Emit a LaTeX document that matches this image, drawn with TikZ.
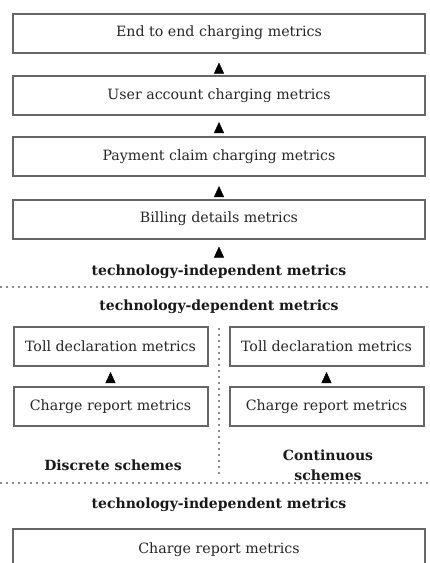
\documentclass[tikz,border=0pt]{standalone}
\usepackage{fontspec}
\setmainfont{DejaVu Serif}
\usetikzlibrary{arrows.meta, positioning}

\begin{document}
\begin{tikzpicture}[x=0.5pt, y=-0.5pt,
  box/.style={draw=black!60, line width=1pt, minimum height=19.5pt, inner sep=0pt,
    text=black!85, font=\fontsize{7.1}{8.4}\selectfont},
  wide/.style={box, minimum width=206pt},
  half/.style={box, minimum width=97pt},
  head/.style={inner sep=1pt, text=black!90, font=\bfseries\fontsize{7}{8.2}\selectfont},
  uparrow/.style={white, line width=0.2pt, -{Triangle[black, width=5pt, length=5.5pt]},
    shorten <=2pt, shorten >=#1},
  uparrow/.default=4pt,
  sep/.style={black!45, line width=0.9pt, dash pattern=on 0.9pt off 2.1pt}]
  \clip (0,0) rectangle (429,563);
  % upper chain
  \node[wide] (end) at (219,33) {End to end charging metrics};
  \node[wide] (user) at (219,95.5) {User account charging metrics};
  \node[wide] (claim) at (219,156.5) {Payment claim charging metrics};
  \node[wide] (billing) at (219,219) {Billing details metrics};
  \node[head] (indep) at (219,272) {technology-independent metrics};
  \draw[uparrow=4.5pt] (user) -- (end);
  \draw[uparrow=3pt] (claim) -- (user);
  \draw[uparrow=4.5pt] (billing) -- (claim);
  \draw[uparrow=3.5pt] (indep) -- (billing);
  \draw[sep] (0,287) -- (429,287);
  % dependent part
  \node[head] (dep) at (219,307) {technology-dependent metrics};
  \node[half] (tollD) at (110.5,346.5) {Toll declaration metrics};
  \node[half] (reportD) at (110.5,406.5) {Charge report metrics};
  \node[half] (tollC) at (326.5,346.5) {Toll declaration metrics};
  \node[half] (reportC) at (326.5,406.5) {Charge report metrics};
  \draw[uparrow=2.5pt] (reportD) -- (tollD);
  \draw[uparrow=2.5pt] (reportC) -- (tollC);
  \node[head] (discrete) at (113,465) {Discrete schemes};
  \node[head, align=center, font=\bfseries\fontsize{7}{10}\selectfont] (continuous)
    at (328,465) {Continuous\\schemes};
  \draw[sep] (219,328) -- (219,476);
  \draw[sep] (0,483) -- (429,483);
  % lower part
  \node[head] (indep2) at (219,505) {technology-independent metrics};
  \node[wide, minimum height=21pt] (report) at (219,550) {Charge report metrics};
\end{tikzpicture}
\end{document}
